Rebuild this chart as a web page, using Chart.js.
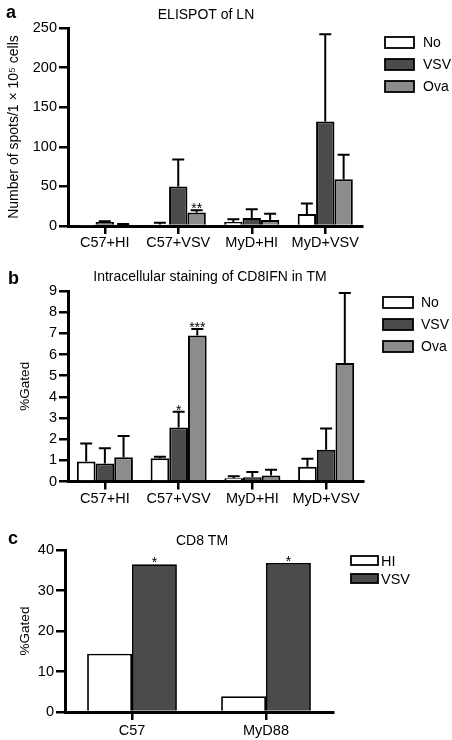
<!DOCTYPE html>
<html lang="en">
<head>
<meta charset="UTF-8" />
<title>ELISPOT / CD8 TM</title>
<script src="https://cdn.jsdelivr.net/npm/chart.js@4.4.0/dist/chart.umd.min.js"></script>
<style>
  body { margin: 0; background: #fff; }
  canvas { display: block; }
</style>
</head>
<body>
<canvas id="chartA" width="452" height="256"></canvas>
<canvas id="chartB" width="452" height="254"></canvas>
<canvas id="chartC" width="452" height="230"></canvas>
<script>
// data
const groups = ['C57+HI', 'C57+VSV', 'MyD+HI', 'MyD+VSV'];

// a - ELISPOT of LN
const elispotNo = [0.5, 2, 5, 15];
const elispotNoTop = [0.5, 4, 8.5, 28.5];
const elispotVsv = [5, 50, 10, 132];
const elispotVsvTop = [6, 84, 21, 242];
const elispotOva = [2, 17, 7.5, 59];
const elispotOvaTop = [2.5, 20, 15.5, 90];
const elispotOvaStars = ['', '**', '', ''];
const elispotTicks = [0, 50, 100, 150, 200, 250];

// b - intracellular staining
const icsNo = [0.95, 1.1, 0.15, 0.7];
const icsNoTop = [1.8, 1.17, 0.25, 1.07];
const icsVsv = [0.85, 2.55, 0.2, 1.5];
const icsVsvTop = [1.57, 3.3, 0.45, 2.5];
const icsOva = [1.15, 6.9, 0.28, 5.6];
const icsOvaTop = [2.15, 7.2, 0.55, 8.9];
const icsVsvStars = ['', '*', '', ''];
const icsOvaStars = ['', '***', '', ''];
const icsTicks = [0, 1, 2, 3, 4, 5, 6, 7, 8, 9];

// c - CD8 TM
const strains = ['C57', 'MyD88'];
const tmHi = [14.4, 3.9];
const tmVsv = [36.5, 36.8];
const tmVsvStars = ['*', '*'];
const tmTicks = [0, 10, 20, 30, 40];

const FONT = '"Liberation Sans", Arial, Helvetica, sans-serif';
const WHITE = '#ffffff', DARK = '#4b4b4b', GREY = '#8c8c8c';

Chart.defaults.font.family = FONT;
Chart.defaults.color = '#000';

// one-sided error bars + significance stars
const errorBars = {
  id: 'errorBars',
  afterDatasetsDraw(chart) {
    const ctx = chart.ctx;
    const y = chart.scales.y;
    ctx.save();
    ctx.strokeStyle = '#000';
    ctx.lineWidth = 2;
    chart.data.datasets.forEach((ds, i) => {
      chart.getDatasetMeta(i).data.forEach((bar, j) => {
        let top = bar.y;
        if (ds.errTop && ds.errTop[j] > ds.data[j]) {
          top = y.getPixelForValue(ds.errTop[j]);
          ctx.beginPath();
          ctx.moveTo(bar.x, bar.y);
          ctx.lineTo(bar.x, top);
          ctx.moveTo(bar.x - 6, top);
          ctx.lineTo(bar.x + 6, top);
          ctx.stroke();
        }
        if (ds.stars && ds.stars[j]) {
          ctx.fillStyle = '#000';
          ctx.font = '14px ' + FONT;
          ctx.textAlign = 'center';
          ctx.textBaseline = 'alphabetic';
          ctx.fillText(ds.stars[j], bar.x, top + 3);
        }
      });
    });
    ctx.restore();
  }
};

// panel letter + title
const panelText = {
  id: 'panelText',
  afterDraw(chart, args, o) {
    const ctx = chart.ctx;
    ctx.save();
    ctx.fillStyle = '#000';
    ctx.font = 'bold 18px ' + FONT;
    ctx.textBaseline = 'alphabetic';
    ctx.fillText(o.letter, o.letterX, o.letterY);
    ctx.font = '14px ' + FONT;
    ctx.textAlign = 'center';
    ctx.textBaseline = 'middle';
    ctx.fillText(o.title, o.titleX, o.titleY);
    ctx.restore();
  }
};

// square legend on the right
const boxLegend = {
  id: 'boxLegend',
  afterDraw(chart, args, o) {
    const ctx = chart.ctx;
    ctx.save();
    ctx.font = o.size + 'px ' + FONT;
    ctx.textBaseline = 'middle';
    chart.data.datasets.forEach((ds, i) => {
      const top = o.y + i * o.step;
      ctx.fillStyle = ds.backgroundColor;
      ctx.fillRect(o.x, top, o.w, o.h);
      ctx.lineWidth = 1.8;
      ctx.strokeStyle = '#000';
      ctx.strokeRect(o.x, top, o.w, o.h);
      ctx.fillStyle = '#000';
      ctx.fillText(ds.label, o.x + o.w + o.gap, top + o.h / 2 + 1);
    });
    ctx.restore();
  }
};

function barChart(id, c) {
  return new Chart(document.getElementById(id), {
    type: 'bar',
    data: { labels: c.labels, datasets: c.datasets },
    plugins: [errorBars, panelText, boxLegend],
    options: {
      responsive: false,
      animation: false,
      layout: { padding: c.padding },
      datasets: { bar: { categoryPercentage: c.catPct, barPercentage: 1, borderColor: '#000', borderWidth: c.barBorder } },
      scales: {
        x: {
          z: 1,
          offset: true,
          afterFit: s => { s.height = c.xHeight; },
          grid: { drawOnChartArea: false, offset: false, color: '#000', lineWidth: 2.5, tickLength: 8 },
          border: { color: '#000', width: 3 },
          ticks: { font: { size: 14.5 }, padding: c.xPad, maxRotation: 0 }
        },
        y: {
          z: 1,
          min: c.yTicks[0],
          max: c.yTicks[c.yTicks.length - 1],
          afterFit: s => { s.width = c.yWidth; },
          afterBuildTicks: s => { s.ticks = c.yTicks.map(v => ({ value: v })); },
          grid: { drawOnChartArea: false, color: '#000', lineWidth: 2.5, tickLength: 9 },
          border: { color: '#000', width: 3 },
          ticks: { font: { size: 14.5 }, padding: 2 },
          title: { display: true, text: c.yTitle, font: { size: c.yTitleSize }, padding: { top: c.yTitlePad, bottom: 0 } }
        }
      },
      plugins: {
        legend: { display: false },
        tooltip: { enabled: false },
        panelText: c.panel,
        boxLegend: c.legend
      }
    }
  });
}

barChart('chartA', {
  labels: groups,
  datasets: [
    { label: 'No', data: elispotNo, errTop: elispotNoTop, backgroundColor: WHITE },
    { label: 'VSV', data: elispotVsv, errTop: elispotVsvTop, backgroundColor: DARK },
    { label: 'Ova', data: elispotOva, errTop: elispotOvaTop, stars: elispotOvaStars, backgroundColor: GREY }
  ],
  padding: { top: 28, right: 90, left: 0, bottom: 0 },
  catPct: 0.75, barBorder: 2,
  xHeight: 30, xPad: 0, yWidth: 68,
  yTicks: elispotTicks,
  yTitle: 'Number of spots/1 \u00d7 10\u2075 cells', yTitleSize: 14, yTitlePad: 5.5,
  panel: { letter: 'a', letterX: 6, letterY: 18, title: 'ELISPOT of LN', titleX: 206, titleY: 15 },
  legend: { x: 385, y: 37, step: 22, w: 29, h: 11, gap: 9, size: 14 }
});

barChart('chartB', {
  labels: groups,
  datasets: [
    { label: 'No', data: icsNo, errTop: icsNoTop, backgroundColor: WHITE },
    { label: 'VSV', data: icsVsv, errTop: icsVsvTop, stars: icsVsvStars, backgroundColor: DARK },
    { label: 'Ova', data: icsOva, errTop: icsOvaTop, stars: icsOvaStars, backgroundColor: GREY }
  ],
  padding: { top: 35, right: 89, left: 0, bottom: 0 },
  catPct: 0.76, barBorder: 2,
  xHeight: 28.5, xPad: 1, yWidth: 68,
  yTicks: icsTicks,
  yTitle: '%Gated', yTitleSize: 13.5, yTitlePad: 17.5,
  panel: { letter: 'b', letterX: 8, letterY: 28, title: 'Intracellular staining of CD8IFN in TM', titleX: 210, titleY: 21 },
  legend: { x: 383, y: 41, step: 22, w: 30, h: 11, gap: 8, size: 14 }
});

barChart('chartC', {
  labels: strains,
  datasets: [
    { label: 'HI', data: tmHi, backgroundColor: WHITE },
    { label: 'VSV', data: tmVsv, stars: tmVsvStars, backgroundColor: DARK }
  ],
  padding: { top: 40, right: 119, left: 0, bottom: 0 },
  catPct: 0.67, barBorder: 1.8,
  xHeight: 28, xPad: 2, yWidth: 65,
  yTicks: tmTicks,
  yTitle: '%Gated', yTitleSize: 13.5, yTitlePad: 17.5,
  panel: { letter: 'c', letterX: 8, letterY: 34, title: 'CD8 TM', titleX: 202, titleY: 31 },
  legend: { x: 351, y: 46, step: 18, w: 27, h: 9, gap: 3, size: 14.5 }
});
</script>
</body>
</html>
